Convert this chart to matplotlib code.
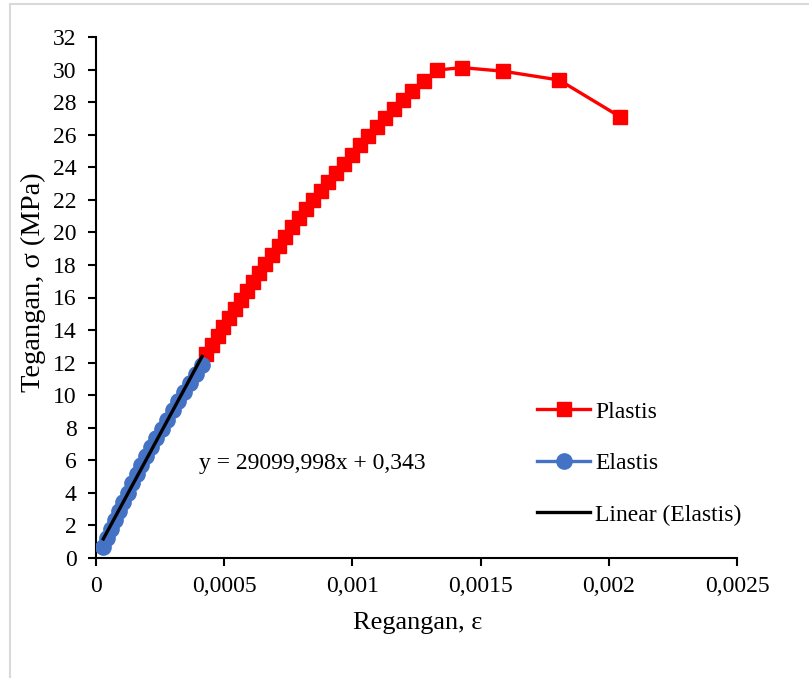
import matplotlib
matplotlib.use("Agg")
import matplotlib.pyplot as plt
from matplotlib.lines import Line2D

plt.rcParams['font.family'] = ['Liberation Serif', 'DejaVu Serif']

# Plastic region (strain, stress MPa)
plastis_x = [0.000430, 0.000452, 0.000474, 0.000496, 0.000518, 0.000541, 0.000564,
             0.000587, 0.000611, 0.000635, 0.000660, 0.000686, 0.000712, 0.000738,
             0.000765, 0.000792, 0.000819, 0.000847, 0.000876, 0.000905, 0.000935,
             0.000966, 0.000997, 0.001029, 0.001061, 0.001094, 0.001127, 0.001161,
             0.001196, 0.001232, 0.001280, 0.001330, 0.001428, 0.001587, 0.001806,
             0.002045]
plastis_y = [12.50, 13.06, 13.62, 14.17, 14.72, 15.27, 15.82,
             16.38, 16.94, 17.50, 18.06, 18.62, 19.18, 19.74,
             20.30, 20.86, 21.42, 21.98, 22.54, 23.10, 23.66,
             24.22, 24.78, 25.34, 25.90, 26.46, 27.02, 27.58,
             28.14, 28.70, 29.30, 29.97, 30.12, 29.90, 29.36,
             27.09]

# Elastic region
elastis_x = [0.0000285, 0.0000430, 0.0000580, 0.0000735, 0.0000895, 0.0001060,
             0.0001230, 0.0001405, 0.0001585, 0.0001770, 0.0001960, 0.0002155,
             0.0002355, 0.0002560, 0.0002770, 0.0002985, 0.0003205, 0.0003430,
             0.0003660, 0.0003895, 0.0004135]
elastis_y = [0.66, 1.22, 1.78, 2.34, 2.90, 3.46, 4.02, 4.58, 5.14, 5.70, 6.26,
             6.82, 7.38, 7.94, 8.50, 9.06, 9.62, 10.18, 10.74, 11.30, 11.85]

# Linear trendline of elastic region
trend_slope = 29099.998
trend_intercept = 0.343
trend_label = "y = 29099,998x + 0,343"

x_ticks = [0, 0.0005, 0.001, 0.0015, 0.002, 0.0025]
x_tick_labels = ['0', '0,0005', '0,001', '0,0015', '0,002', '0,0025']
y_ticks = list(range(0, 33, 2))

fig = plt.figure(figsize=(8.09, 6.78), dpi=100)
ax = fig.add_axes([96/809, 1-558/678, (737-96)/809, (558-37)/678])

ax.plot(plastis_x, plastis_y, color='#ff0000', lw=2.4, marker='s', ms=10,
        mec='#ff0000', mfc='#ff0000', label='Plastis', zorder=2)
ax.plot(elastis_x, elastis_y, color='#4472c4', lw=2.4, marker='o', ms=11,
        mec='#4472c4', mfc='#4472c4', label='Elastis', zorder=3)
tx = [min(elastis_x), max(elastis_x)]
ty = [trend_slope * v + trend_intercept for v in tx]
ax.plot(tx, ty, color='black', lw=2.4, label='Linear (Elastis)', zorder=4)

ax.set_xlim(0, 0.0025)
ax.set_ylim(0, 32)
ax.set_xticks(x_ticks)
ax.set_xticklabels(x_tick_labels)
ax.set_yticks(y_ticks)
ax.set_yticklabels([str(v) for v in y_ticks])

for s in ['top', 'right']:
    ax.spines[s].set_visible(False)
for s in ['left', 'bottom']:
    ax.spines[s].set_linewidth(1.5)
    ax.spines[s].set_color('black')
ax.tick_params(axis='both', direction='out', length=6, width=1.5, labelsize=17,
               colors='black')
ax.tick_params(axis='y', pad=8)
ax.tick_params(axis='x', pad=7)

ax.set_xlabel('Regangan, ε', fontsize=19)
ax.set_ylabel('Tegangan, σ (MPa)', fontsize=20.5)
ax.xaxis.set_label_coords((418-96)/641, (558-623)/521)
ax.xaxis.label.set_va('center')
ax.yaxis.set_label_coords((33-96)/641, (558-282)/521)
ax.yaxis.label.set_va('center')

ax.text(0.000402, 5.78, trend_label, fontsize=17, ha='left', va='center')

leg = ax.legend(loc='upper left', bbox_to_anchor=(537/809, 1-401/678),
                bbox_transform=fig.transFigure, frameon=False, fontsize=17,
                labelspacing=1.27, handlelength=2.25, handletextpad=0.22,
                borderpad=0, borderaxespad=0)

# chart area border remnants (left and top)
fig.add_artist(Line2D([10/809, 10/809], [0, 1-4/678], transform=fig.transFigure,
                      color='#d9d9d9', lw=1.5))
fig.add_artist(Line2D([10/809, 1], [1-4/678, 1-4/678], transform=fig.transFigure,
                      color='#d9d9d9', lw=1.5))

fig.savefig('out.png', dpi=100)
